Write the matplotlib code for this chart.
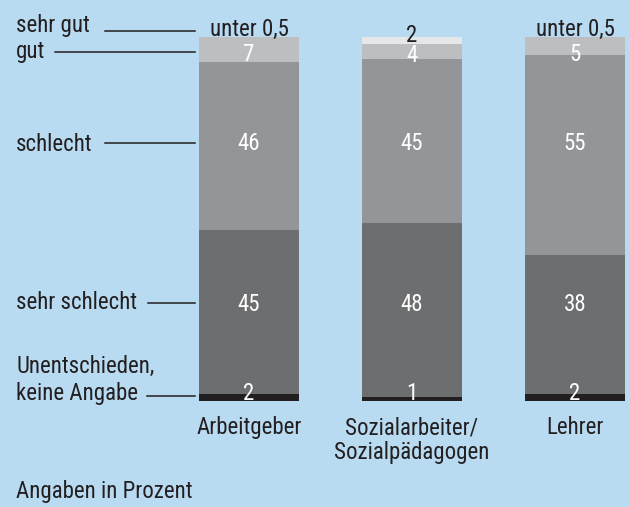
import numpy as np
import matplotlib
matplotlib.use("Agg")
import matplotlib.pyplot as plt
import matplotlib.transforms as mtransforms

plt.rcParams['font.family'] = ['Roboto Condensed', 'Liberation Sans', 'DejaVu Sans']

# data (Angaben in Prozent)
categories = ['Arbeitgeber', 'Sozialarbeiter/\nSozialpädagogen', 'Lehrer']
unentschieden = [2, 1, 2]
sehr_schlecht = [45, 48, 38]
schlecht = [46, 45, 55]
gut = [7, 4, 5]
sehr_gut = [0, 2, 0]
sehr_gut_labels = ['unter 0,5', '2', 'unter 0,5']
row_names = ['Unentschieden,\nkeine Angabe', 'sehr schlecht', 'schlecht', 'gut', 'sehr gut']

W, H = 630, 507
BG = '#b8dbf2'
DARK = '#231f20'
colors = ['#231f20', '#6d6e70', '#939598', '#bcbec0', '#e6e7e8']

fig = plt.figure(figsize=(W / 100, H / 100), dpi=100, facecolor=BG)
# bars run from y=37px (top) to y=401px (bottom)
ax = fig.add_axes([0, (H - 401) / H, 1, 364 / H])
ax.set_facecolor(BG)
ax.axis('off')

# bar centres ~249, 412, 575 px
step = 163.0
c0 = 249.0
ax.set_xlim(-c0 / step, 2 + (W - (c0 + 2 * step)) / step)
ax.set_ylim(0, 100)
bar_w = 100 / step

x = np.arange(len(categories))
series = [unentschieden, sehr_schlecht, schlecht, gut, sehr_gut]
bottom = np.zeros(len(categories))
for vals, col in zip(series, colors):
    ax.bar(x, vals, width=bar_w, bottom=bottom, color=col, linewidth=0)
    bottom += np.array(vals)

def py(p):
    # pixel row (from top) -> position on the percent axis
    return (401 - p) / 3.64

fs = 16.5
blend = mtransforms.blended_transform_factory(fig.transFigure, ax.transData)

def multiline(xpos, base, text, trans, ha, gap=26):
    for k, line in enumerate(text.split('\n')):
        ax.text(xpos, py(base + k * gap), line, transform=trans, color=DARK,
                ha=ha, va='baseline', fontsize=fs)

# value labels, baselines per row (pixel rows)
row_base = [400, 311, 150, 61]
for i in range(len(categories)):
    for r, vals in enumerate(series[:4]):
        yb = row_base[r] + (1 if (r == 3 and sehr_gut[i] > 0) else 0)
        ax.text(x[i], py(yb), str(vals[i]), color='white',
                ha='center', va='baseline', fontsize=fs)
    yb = 42 if sehr_gut[i] > 0 else 36
    ax.text(x[i], py(yb), sehr_gut_labels[i], color=DARK,
            ha='center', va='baseline', fontsize=fs)

# category labels
for i, cat in enumerate(categories):
    multiline(x[i], 434, cat, ax.transData, 'center', gap=25)

# left row labels with leader lines
label_base = [373, 309, 151, 58, 32]
line_y = [396, 303, 143, 52, 31]
line_x0 = [147, 148, 105, 55, 105]
for r, name in enumerate(row_names):
    multiline(16 / W, label_base[r], name, blend, 'left', gap=27)
    ax.plot([line_x0[r] / W, 195 / W], [py(line_y[r])] * 2, transform=blend,
            color=DARK, lw=1.1, clip_on=False)

fig.text(16 / W, 1 - 498 / H, 'Angaben in Prozent', color=DARK,
         ha='left', va='baseline', fontsize=fs)

fig.savefig('out.png', dpi=100, facecolor=BG)
